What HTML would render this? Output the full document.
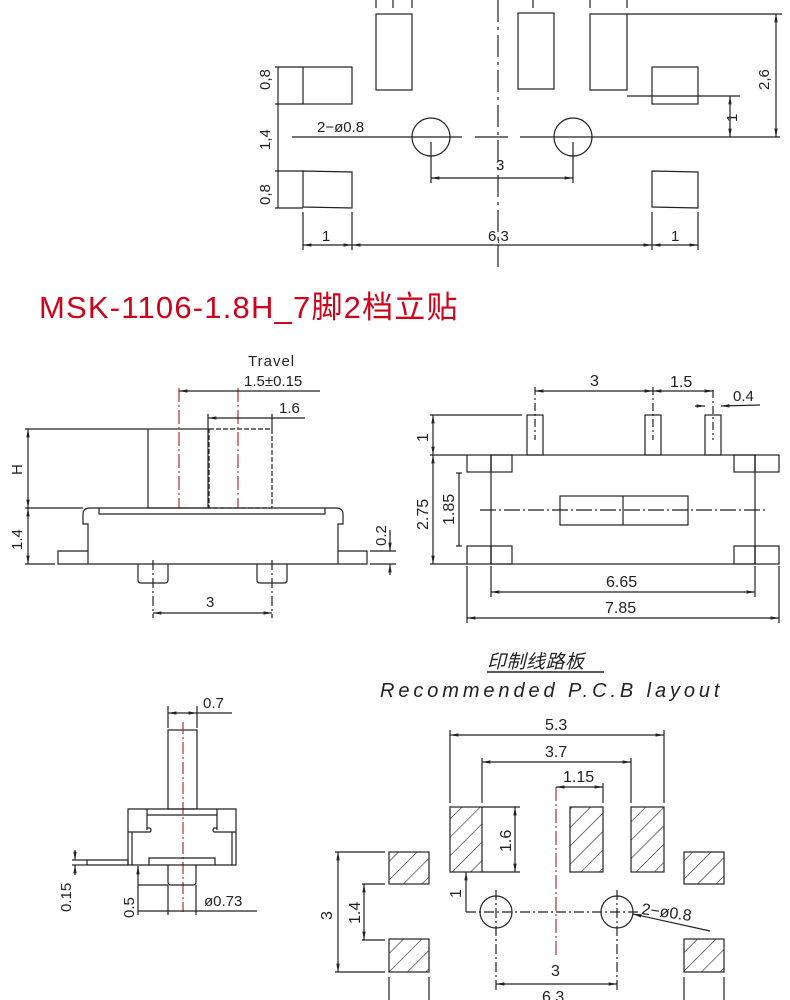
<!DOCTYPE html>
<html><head><meta charset="utf-8"><style>
html,body{margin:0;padding:0;background:#fff;}
svg{display:block;}
text{font-family:"Liberation Sans","Noto Sans CJK SC",sans-serif;fill:#222;}
</style></head><body>
<svg width="790" height="1000" viewBox="0 0 790 1000" xmlns="http://www.w3.org/2000/svg">
<defs>
<pattern id="h" patternUnits="userSpaceOnUse" width="13" height="13" patternTransform="rotate(45)">
<line x1="0" y1="0" x2="0" y2="13" stroke="#222" stroke-width="1.2"/>
</pattern>
<marker id="a" viewBox="0 0 10 10" refX="10" refY="5" markerWidth="7" markerHeight="7" orient="auto-start-reverse"><path d="M0,3 L10,5 L0,7 z" fill="#222"/></marker>
</defs>
<g stroke="#222" stroke-width="1.2" fill="none">
<!-- TOP -->
<line x1="498" y1="0" x2="498" y2="270" stroke-dasharray="22,5,3,5"/>
<line x1="376" y1="0" x2="376" y2="8"/><line x1="393" y1="0" x2="393" y2="8"/><line x1="412" y1="0" x2="412" y2="8"/>
<line x1="533" y1="0" x2="533" y2="8"/><line x1="590" y1="0" x2="590" y2="8"/><line x1="627" y1="0" x2="627" y2="8"/>
<rect x="376" y="14" width="36" height="76"/>
<rect x="518" y="13" width="36" height="76"/>
<rect x="590" y="14" width="37" height="76"/>
<rect x="303" y="67" width="49" height="37"/>
<rect x="652" y="67" width="46" height="37"/>
<path d="M303,171 L352,172 L352,208 L303,207 Z"/>
<path d="M652,171 L698,172 L698,208 L652,207 Z"/>
<circle cx="431" cy="137" r="19"/><circle cx="573" cy="137" r="19"/>
<line x1="292" y1="137" x2="462" y2="137"/>
<line x1="475" y1="137" x2="508" y2="137"/>
<line x1="520" y1="137" x2="780" y2="137"/>
<line x1="431" y1="142" x2="431" y2="183"/><line x1="573" y1="142" x2="573" y2="183"/>
<line x1="431" y1="178" x2="573" y2="178" marker-start="url(#a)" marker-end="url(#a)"/>
<line x1="278" y1="67" x2="278" y2="208"/>
<line x1="275" y1="67" x2="303" y2="67"/><line x1="275" y1="104" x2="303" y2="104"/>
<line x1="275" y1="171" x2="303" y2="171"/><line x1="275" y1="208" x2="303" y2="208"/>
<line x1="303" y1="212" x2="303" y2="250"/><line x1="352" y1="212" x2="352" y2="250"/>
<line x1="652" y1="212" x2="652" y2="250"/><line x1="698" y1="212" x2="698" y2="250"/>
<line x1="303" y1="245" x2="352" y2="245" marker-start="url(#a)" marker-end="url(#a)"/>
<line x1="352" y1="245" x2="652" y2="245" marker-start="url(#a)" marker-end="url(#a)"/>
<line x1="652" y1="245" x2="698" y2="245" marker-start="url(#a)" marker-end="url(#a)"/>
<line x1="627" y1="14" x2="782" y2="14"/>
<line x1="776" y1="14" x2="776" y2="137" marker-start="url(#a)" marker-end="url(#a)"/>
<line x1="627" y1="96" x2="740" y2="96"/>
<line x1="730" y1="96" x2="730" y2="137" marker-start="url(#a)" marker-end="url(#a)"/>
</g>
<g font-size="15">
<text transform="translate(270,90) rotate(-90)">0,8</text>
<text transform="translate(270,150) rotate(-90)">1,4</text>
<text transform="translate(270,205) rotate(-90)">0,8</text>
<text x="317" y="132">2−ø0.8</text>
<text x="496" y="170">3</text>
<text x="322" y="241">1</text>
<text x="488" y="241">6,3</text>
<text x="671" y="241">1</text>
<text transform="translate(769,90) rotate(-90)">2,6</text>
<text transform="translate(737,122) rotate(-90)">1</text>
</g>
<text x="39" y="318" font-size="31" letter-spacing="1.2" style="fill:#d0021b">MSK-1106-1.8H_7脚2档立贴</text>

<!-- SIDE VIEW -->
<g stroke="#222" stroke-width="1.2" fill="none">
<rect x="148" y="429" width="60" height="79"/>
<rect x="209" y="429" width="63" height="79" stroke-dasharray="5,2"/>
<line x1="179" y1="388" x2="179" y2="508" stroke-dasharray="14,3,2,3" stroke="#a33"/>
<line x1="238" y1="388" x2="238" y2="508" stroke-dasharray="14,3,2,3" stroke="#a33"/>
<line x1="208" y1="414" x2="208" y2="429"/><line x1="272" y1="414" x2="272" y2="429"/>
<line x1="179" y1="391" x2="320" y2="391" marker-start="url(#a)"/>
<line x1="208" y1="418" x2="305" y2="418" marker-start="url(#a)"/>
<line x1="25" y1="429" x2="148" y2="429"/>
<line x1="28" y1="429" x2="28" y2="508" marker-start="url(#a)" marker-end="url(#a)"/>
<line x1="25" y1="508" x2="83" y2="508"/>
<line x1="28" y1="508" x2="28" y2="564" marker-start="url(#a)" marker-end="url(#a)"/>
<line x1="25" y1="564" x2="55" y2="564"/>
<path d="M88,564 L88,524 L83,524 L83,514 Q83,508 90,508 L336,508 Q343,508 343,514 L343,524 L338,524 L338,564"/>
<path d="M99,508 L99,514 L325,514 L325,508"/>
<path d="M88,551 L58,551 L58,564 L367,564 L367,551 L338,551"/>
<path d="M138,564 L138,580 Q138,583 141,583 L165,583 Q168,583 168,580 L168,564"/>
<path d="M257,564 L257,580 Q257,583 260,583 L284,583 Q287,583 287,580 L287,564"/>
<line x1="153" y1="560" x2="153" y2="618" stroke-dasharray="10,3,2,3"/>
<line x1="272" y1="560" x2="272" y2="618" stroke-dasharray="10,3,2,3"/>
<line x1="153" y1="613" x2="272" y2="613" marker-start="url(#a)" marker-end="url(#a)"/>
<line x1="370" y1="551" x2="396" y2="551"/><line x1="370" y1="564" x2="396" y2="564"/>
<line x1="390" y1="530" x2="390" y2="551" marker-end="url(#a)"/>
<line x1="390" y1="575" x2="390" y2="564" marker-end="url(#a)"/>
</g>
<g font-size="15">
<text x="248" y="366" letter-spacing="1">Travel</text>
<text x="244" y="386">1.5±0.15</text>
<text x="279" y="413">1.6</text>
<text transform="translate(22,475) rotate(-90)">H</text>
<text transform="translate(22,550) rotate(-90)">1.4</text>
<text transform="translate(386,546) rotate(-90)">0.2</text>
<text x="206" y="607">3</text>
</g>

<!-- FRONT VIEW -->
<g stroke="#222" stroke-width="1.2" fill="none">
<rect x="491" y="455" width="264" height="109"/>
<rect x="467" y="455" width="24" height="17"/><rect x="491" y="455" width="21" height="17"/>
<rect x="467" y="546" width="24" height="18"/><rect x="491" y="546" width="21" height="18"/>
<rect x="755" y="455" width="24" height="17"/><rect x="734" y="455" width="21" height="17"/>
<rect x="755" y="546" width="24" height="18"/><rect x="734" y="546" width="21" height="18"/>
<rect x="527" y="415" width="16" height="40"/>
<rect x="645" y="415" width="16" height="40"/>
<rect x="705" y="415" width="16" height="40"/>
<rect x="560" y="496" width="128" height="29"/>
<line x1="623" y1="496" x2="623" y2="525"/>
<line x1="480" y1="510" x2="768" y2="510" stroke-dasharray="16,3,2,3"/>
<line x1="535" y1="387" x2="535" y2="440" stroke-dasharray="8,3,2,3"/>
<line x1="653" y1="387" x2="653" y2="440" stroke-dasharray="8,3,2,3"/>
<line x1="713" y1="390" x2="713" y2="440" stroke-dasharray="8,3,2,3"/>
<line x1="535" y1="391" x2="653" y2="391" marker-start="url(#a)" marker-end="url(#a)"/>
<line x1="653" y1="391" x2="713" y2="391" marker-start="url(#a)" marker-end="url(#a)"/>
<line x1="695" y1="406" x2="705" y2="406" marker-end="url(#a)"/>
<line x1="760" y1="405" x2="721" y2="406" marker-end="url(#a)"/>
<line x1="430" y1="415" x2="522" y2="415"/>
<line x1="433" y1="415" x2="433" y2="455" marker-start="url(#a)" marker-end="url(#a)"/>
<line x1="430" y1="455" x2="467" y2="455"/>
<line x1="433" y1="455" x2="433" y2="564" marker-start="url(#a)" marker-end="url(#a)"/>
<line x1="430" y1="564" x2="467" y2="564"/>
<line x1="459" y1="473" x2="459" y2="546"/>
<line x1="456" y1="473" x2="462" y2="473"/><line x1="456" y1="546" x2="462" y2="546"/>
<line x1="491" y1="566" x2="491" y2="597"/><line x1="755" y1="566" x2="755" y2="597"/>
<line x1="467" y1="566" x2="467" y2="623"/><line x1="779" y1="566" x2="779" y2="623"/>
<line x1="491" y1="592" x2="755" y2="592" marker-start="url(#a)" marker-end="url(#a)"/>
<line x1="467" y1="618" x2="779" y2="618" marker-start="url(#a)" marker-end="url(#a)"/>
</g>
<g font-size="16">
<text x="590" y="386">3</text>
<text x="670" y="387">1.5</text>
<text x="733" y="401" font-size="15">0.4</text>
<text transform="translate(428,442) rotate(-90)">1</text>
<text transform="translate(428,530) rotate(-90)">2.75</text>
<text transform="translate(454,525) rotate(-90)">1.85</text>
<text x="606" y="587">6.65</text>
<text x="605" y="613">7.85</text>
</g>

<!-- PCB title -->
<text x="487" y="668" font-size="19" font-style="italic" letter-spacing="0.5">印制线路板</text>
<line x1="487" y1="672" x2="604" y2="672" stroke="#222" stroke-width="1.5"/>
<text x="380" y="697" font-size="20" font-style="italic" letter-spacing="3.9">Recommended P.C.B layout</text>

<!-- BOTTOM-LEFT VIEW -->
<g stroke="#222" stroke-width="1.2" fill="none">
<rect x="168" y="730" width="29" height="79"/>
<line x1="183" y1="722" x2="183" y2="912" stroke-dasharray="12,3,2,3" stroke="#a33"/>
<path d="M128,865 L128,809 L236,809 L236,865 Z"/>
<line x1="147" y1="809" x2="147" y2="830"/><line x1="217" y1="809" x2="217" y2="830"/>
<line x1="147" y1="815" x2="217" y2="815"/>
<path d="M128,832 L150,832 Q152,830 150,828 L147,828"/>
<path d="M236,832 L214,832 Q212,830 214,828 L217,828"/>
<line x1="132" y1="832" x2="132" y2="865"/><line x1="232" y1="832" x2="232" y2="865"/>
<path d="M87,860 L128,860 L128,865 L87,865 Z"/>
<path d="M149,865 L149,858 L215,858 L215,865"/>
<path d="M168,865 L168,882 Q168,885 171,885 L193,885 Q196,885 196,882 L196,865"/>
<line x1="168" y1="706" x2="168" y2="728"/><line x1="197" y1="706" x2="197" y2="728"/>
<line x1="168" y1="713" x2="197" y2="713" marker-start="url(#a)" marker-end="url(#a)"/>
<line x1="197" y1="713" x2="232" y2="713"/>
<line x1="72" y1="860" x2="87" y2="860"/><line x1="72" y1="865" x2="87" y2="865"/>
<line x1="75" y1="850" x2="75" y2="860" marker-end="url(#a)"/>
<line x1="75" y1="875" x2="75" y2="865" marker-end="url(#a)"/>
<line x1="138" y1="875" x2="138" y2="866" marker-end="url(#a)"/>
<line x1="138" y1="866" x2="138" y2="915"/>
<line x1="138" y1="885" x2="168" y2="885"/>
<line x1="138" y1="911" x2="257" y2="911"/>
<line x1="168" y1="885" x2="168" y2="915"/><line x1="196" y1="885" x2="196" y2="915"/>
</g>
<g font-size="15">
<text x="203" y="708">0.7</text>
<text transform="translate(71,912) rotate(-90)">0.15</text>
<text transform="translate(134,918) rotate(-90)">0.5</text>
<text x="204" y="906">ø0.73</text>
</g>

<!-- PCB LAYOUT -->
<g stroke="#222" stroke-width="1.2">
<rect x="450" y="807" width="32" height="65" fill="url(#h)"/>
<rect x="570" y="807" width="33" height="65" fill="url(#h)"/>
<rect x="631" y="807" width="33" height="65" fill="url(#h)"/>
<rect x="389" y="852" width="40" height="32" fill="url(#h)"/>
<rect x="389" y="939" width="40" height="33" fill="url(#h)"/>
<rect x="684" y="852" width="40" height="32" fill="url(#h)"/>
<rect x="684" y="939" width="40" height="33" fill="url(#h)"/>
</g>
<g stroke="#222" stroke-width="1.2" fill="none">
<circle cx="496" cy="912" r="16"/><circle cx="617" cy="912" r="16"/>
<line x1="466" y1="912" x2="640" y2="912" stroke-dasharray="10,3,2,3"/>
<line x1="496" y1="890" x2="496" y2="990" stroke-dasharray="10,3,2,3"/>
<line x1="617" y1="890" x2="617" y2="990" stroke-dasharray="10,3,2,3"/>
<line x1="556" y1="787" x2="556" y2="955" stroke-dasharray="14,3,2,3" stroke="#a33"/>
<line x1="450" y1="730" x2="450" y2="803"/><line x1="664" y1="730" x2="664" y2="803"/>
<line x1="482" y1="758" x2="482" y2="803"/><line x1="631" y1="758" x2="631" y2="803"/>
<line x1="603" y1="783" x2="603" y2="803"/>
<line x1="450" y1="735" x2="664" y2="735" marker-start="url(#a)" marker-end="url(#a)"/>
<line x1="482" y1="762" x2="631" y2="762" marker-start="url(#a)" marker-end="url(#a)"/>
<line x1="556" y1="787" x2="603" y2="787" marker-start="url(#a)" marker-end="url(#a)"/>
<line x1="482" y1="807" x2="520" y2="807"/><line x1="482" y1="872" x2="520" y2="872"/>
<line x1="515" y1="807" x2="515" y2="872" marker-start="url(#a)" marker-end="url(#a)"/>
<line x1="466" y1="872" x2="466" y2="912" marker-start="url(#a)"/>
<line x1="335" y1="852" x2="385" y2="852"/><line x1="335" y1="972" x2="385" y2="972"/>
<line x1="338" y1="852" x2="338" y2="972" marker-start="url(#a)" marker-end="url(#a)"/>
<line x1="362" y1="884" x2="385" y2="884"/><line x1="362" y1="940" x2="385" y2="940"/>
<line x1="364" y1="884" x2="364" y2="940" marker-start="url(#a)" marker-end="url(#a)"/>
<line x1="389" y1="977" x2="389" y2="1000"/><line x1="429" y1="977" x2="429" y2="1000"/>
<line x1="684" y1="977" x2="684" y2="1000"/><line x1="724" y1="977" x2="724" y2="1000"/>
<line x1="496" y1="984" x2="617" y2="984" marker-start="url(#a)" marker-end="url(#a)"/>
<line x1="710" y1="931" x2="633" y2="914" marker-end="url(#a)"/>
</g>
<g font-size="16">
<text x="545" y="730">5.3</text>
<text x="545" y="757">3.7</text>
<text x="563" y="782">1.15</text>
<text transform="translate(511,852) rotate(-90)">1.6</text>
<text transform="translate(461,898) rotate(-90)">1</text>
<text transform="translate(332,920) rotate(-90)">3</text>
<text transform="translate(360,924) rotate(-90)">1.4</text>
<text x="551" y="976">3</text>
<text x="542" y="1002">6.3</text>
<text transform="translate(641,914) rotate(8)">2−ø0.8</text>
</g>
</svg>
</body></html>
